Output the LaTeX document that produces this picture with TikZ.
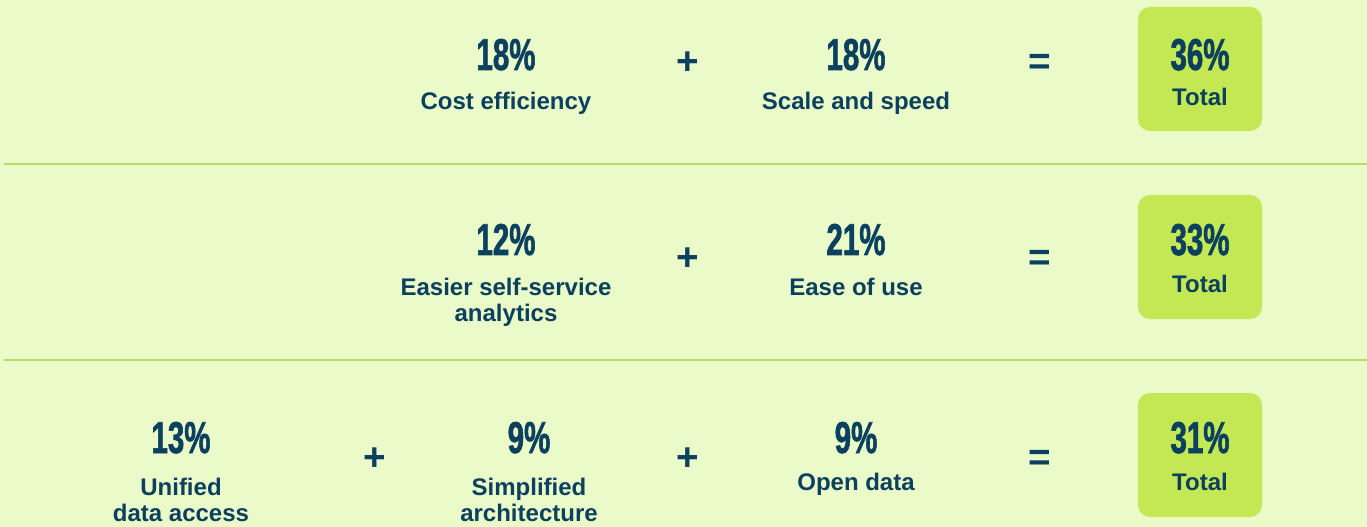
\documentclass[tikz,border=0pt]{standalone}
\usepackage{fontspec}
\setmainfont{Liberation Sans}
\newfontfamily\numfont[FakeStretch=0.66, FakeBold=1.3]{Liberation Sans}
\usetikzlibrary{positioning}
\definecolor{bgcol}{HTML}{EAFAC8}
\definecolor{boxcol}{HTML}{C3E854}
\definecolor{inkcol}{HTML}{0B405E}
\definecolor{rulecol}{HTML}{B6DC66}
\tikzset{
  pct/.style={anchor=base, inner sep=0pt, text=inkcol, font=\numfont\bfseries\fontsize{33.5}{36}\selectfont},
  lbl/.style={anchor=base, inner sep=0pt, text=inkcol, align=center, font=\bfseries\fontsize{18}{19.5}\selectfont},
  op/.style={anchor=base, inner sep=0pt, text=inkcol, font=\bfseries\fontsize{29}{30}\selectfont},
  totalbox/.style={fill=boxcol, draw=none, rounded corners=9pt},
  sep/.style={draw=rulecol, line width=1.2pt}
}

\begin{document}
\begin{tikzpicture}[x=0.75pt, y=-0.75pt]
			%%%%% START %%%%%
			
			\fill[bgcol] (0, 0) rectangle (1367, 527);
			\useasboundingbox (0, 0) rectangle (1367, 527);
			
			\draw[sep] (4, 164) -- (1367, 164);
			\draw[sep] (4, 360) -- (1367, 360);
			
			% row 1
			\node[pct] (costpct) at (506, 70) {18\%};
			\node[lbl] (costlbl) at (506, 110) {Cost efficiency};
			\node[op] (plusA) at (688, 75) {+};
			\node[pct] (scalepct) at (856, 70) {18\%};
			\node[lbl] (scalelbl) at (856, 110) {Scale and speed};
			\node[op] (eqA) at (1040, 75) {=};
			\draw[totalbox] (1138, 7) rectangle (1262, 131);
			\node[pct] (totA) at (1200, 70) {36\%};
			\node[lbl] (totlblA) at (1200, 106) {Total};
			
			% row 2 (base sits on the last line)
			\node[pct] (selfpct) at (506, 255) {12\%};
			\node[lbl] (selflbl) at (506, 321) {Easier self-service\\[-0.5pt]analytics};
			\node[op] (plusB) at (688, 271) {+};
			\node[pct] (easepct) at (856, 255) {21\%};
			\node[lbl] (easelbl) at (856, 296) {Ease of use};
			\node[op] (eqB) at (1040, 271) {=};
			\draw[totalbox] (1138, 195) rectangle (1262, 319);
			\node[pct] (totB) at (1200, 255) {33\%};
			\node[lbl] (totlblB) at (1200, 292) {Total};
			
			% row 3
			\node[pct] (unipct) at (181, 453) {13\%};
			\node[lbl] (unilbl) at (181, 521) {Unified\\[-0.5pt]data access};
			\node[op] (plusC) at (375, 470) {+};
			\node[pct] (simppct) at (529, 453) {9\%};
			\node[lbl] (simplbl) at (529, 521) {Simplified\\[-0.5pt]architecture};
			\node[op] (plusD) at (688, 470) {+};
			\node[pct] (openpct) at (856, 453) {9\%};
			\node[lbl] (openlbl) at (856, 490) {Open data};
			\node[op] (eqC) at (1040, 470) {=};
			\draw[totalbox] (1138, 393) rectangle (1262, 517);
			\node[pct] (totC) at (1200, 453) {31\%};
			\node[lbl] (totlblC) at (1200, 490) {Total};
			
			%%%%% END %%%%%
		\end{tikzpicture}
\end{document}
